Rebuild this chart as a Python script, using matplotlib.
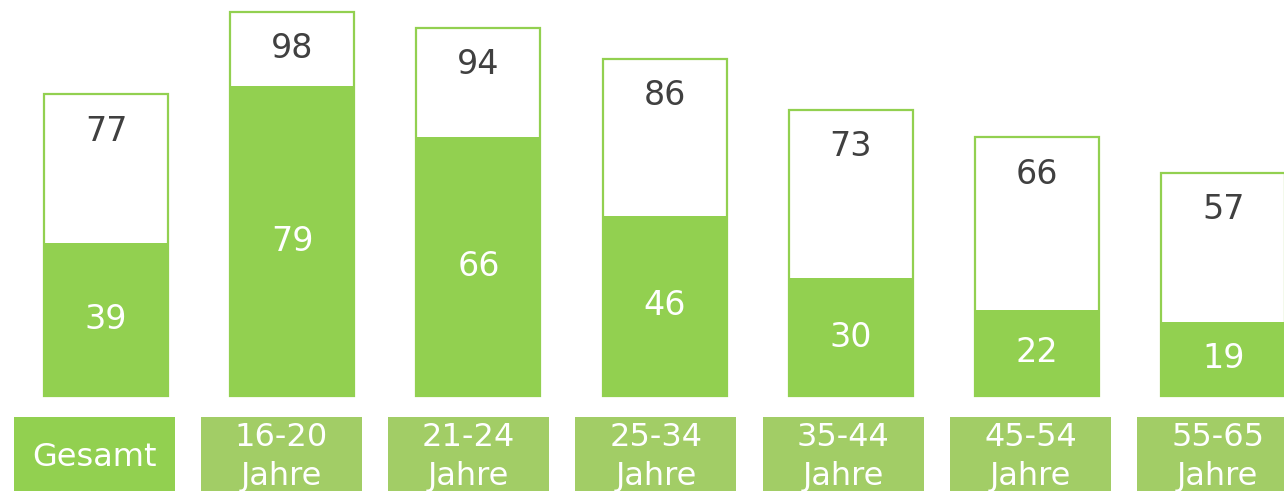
import matplotlib
matplotlib.use("Agg")
import matplotlib.pyplot as plt
from matplotlib.patches import Rectangle

categories = ["Gesamt", "16-20\nJahre", "21-24\nJahre", "25-34\nJahre",
              "35-44\nJahre", "45-54\nJahre", "55-65\nJahre"]
total_values = [77, 98, 94, 86, 73, 66, 57]
filled_values = [39, 79, 66, 46, 30, 22, 19]

GREEN = "#92D050"
BOX_GREEN = "#A2CD66"
DARK = "#404040"

W, H = 1284, 491
fig = plt.figure(figsize=(W / 100, H / 100), dpi=100)
plt.rcParams['font.family'] = ['DejaVu Sans']

# main bar axes (covers whole figure)
ax = fig.add_axes([0, 0, 1, 1])
ax.set_axis_off()
px_per_unit = 3.92
base_px = 396
x0_px, step_px = 106, 186.2
ax.set_xlim((0 - x0_px) / step_px, (W - x0_px) / step_px)
ax.set_ylim((base_px - H) / px_per_unit, base_px / px_per_unit)

xs = list(range(len(categories)))
bw = 124 / step_px
ax.bar(xs, total_values, width=bw, color="white", edgecolor=GREEN,
       linewidth=1.6, zorder=2)
ax.bar(xs, filled_values, width=bw, color=GREEN, edgecolor="none", zorder=3)

for x, t, f in zip(xs, total_values, filled_values):
    ax.annotate(str(t), (x, t), xytext=(0, -37 * 0.72), textcoords="offset points",
                ha="center", va="center", fontsize=24, color=DARK, zorder=4)
    ax.text(x, f / 2, str(f), ha="center", va="center", fontsize=24,
            color="white", zorder=4)

# label axes
lax = fig.add_axes([0, 0, 1, 1], facecolor="none")
lax.set_axis_off()
bx0, bstep = 94, 187.3
lax.set_xlim((0 - bx0) / bstep, (W - bx0) / bstep)
lax.set_ylim(H, 0)
box_w = 161 / bstep
for i, lab in enumerate(categories):
    col = GREEN if i == 0 else BOX_GREEN
    lax.add_patch(Rectangle((i - box_w / 2, 417), box_w, 80, facecolor=col,
                            edgecolor="none", zorder=1))
    lax.text(i, 457, lab, ha="center", va="center", fontsize=23,
             color="white", linespacing=1.33, zorder=2)

fig.savefig("out.png", dpi=100)
